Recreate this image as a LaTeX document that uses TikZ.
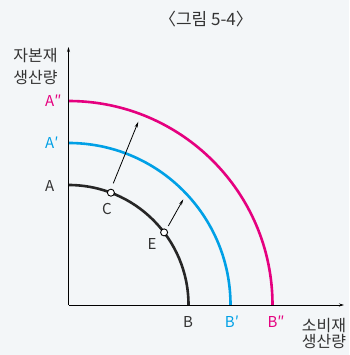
\documentclass[tikz,border=0pt]{standalone}
\usepackage{fontspec}
\setmainfont{Noto Sans CJK KR}
\usetikzlibrary{arrows.meta}
\definecolor{bg}{HTML}{F3F6F8}
\definecolor{mag}{HTML}{E5007F}
\definecolor{cya}{HTML}{00A0E6}
\definecolor{txt}{HTML}{333333}
\begin{document}
\begin{tikzpicture}[x=1pt,y=1pt,
  lab/.style={font=\fontsize{15}{17}\selectfont, text=txt, inner sep=0pt},
  klab/.style={font=\fontsize{16}{18}\selectfont, text=txt, inner sep=0pt},
  axis/.style={line width=0.9pt, black, -{Stealth[length=5pt,width=3pt]}},
  curve/.style={line width=2.6pt},
  shiftarrow/.style={line width=0.8pt, black, -{Stealth[length=6pt,width=3pt]}},
  pt/.style={circle, draw=black, fill=white, line width=0.9pt, minimum size=7pt, inner sep=0pt}]
\fill[bg] (0,0) rectangle (349,355);
\useasboundingbox (0,0) rectangle (349,355);
\coordinate (O) at (68.5,50);
\coordinate (ytop) at (68.5,308);
\coordinate (xend) at (344,50);
% curves
\draw[curve, mag] (68.5,254) arc[start angle=90, end angle=0, radius=204pt];
\draw[curve, cya] (68.5,212) arc[start angle=90, end angle=0, radius=162pt];
\draw[curve, black!85] (68.5,170) arc[start angle=90, end angle=0, radius=120pt];
% axes
\draw[axis] (O) -- (ytop);
\draw[axis] (O) -- (xend);
% shift arrows
\coordinate (c1) at (113.3,171.7);
\coordinate (c2) at (138.3,233.3);
\coordinate (e1) at (168.3,129);
\coordinate (e2) at (183.3,155.7);
\draw[shiftarrow] (c1) -- (c2);
\draw[shiftarrow] (e1) -- (e2);
% points
\node[pt] (C) at (110.9,162.3) {};
\node[pt] (E) at (164.1,122.6) {};
% labels
\node[klab, font=\fontsize{17}{19}\selectfont] (title) at (206,336) {〈그림 5-4〉};
\node[klab] (ylab1) at (35.5,299) {자본재};
\node[klab] (ylab2) at (35.5,277.5) {생산량};
\node[lab, anchor=west] (A) at (45,169) {A};
\node[lab, anchor=west, text=cya] (A1) at (45,212) {A′};
\node[lab, anchor=west, text=mag] (A2) at (45,254) {A″};
\node[lab] (B) at (188,33) {B};
\node[lab, text=cya] (B1) at (232,33) {B′};
\node[lab, text=mag] (B2) at (276,33) {B″};
\node[lab] (Cl) at (107,146) {C};
\node[lab] (El) at (152,111) {E};
\node[klab] (xlab1) at (324,29.5) {소비재};
\node[klab] (xlab2) at (324,14) {생산량};
\end{tikzpicture}
\end{document}
